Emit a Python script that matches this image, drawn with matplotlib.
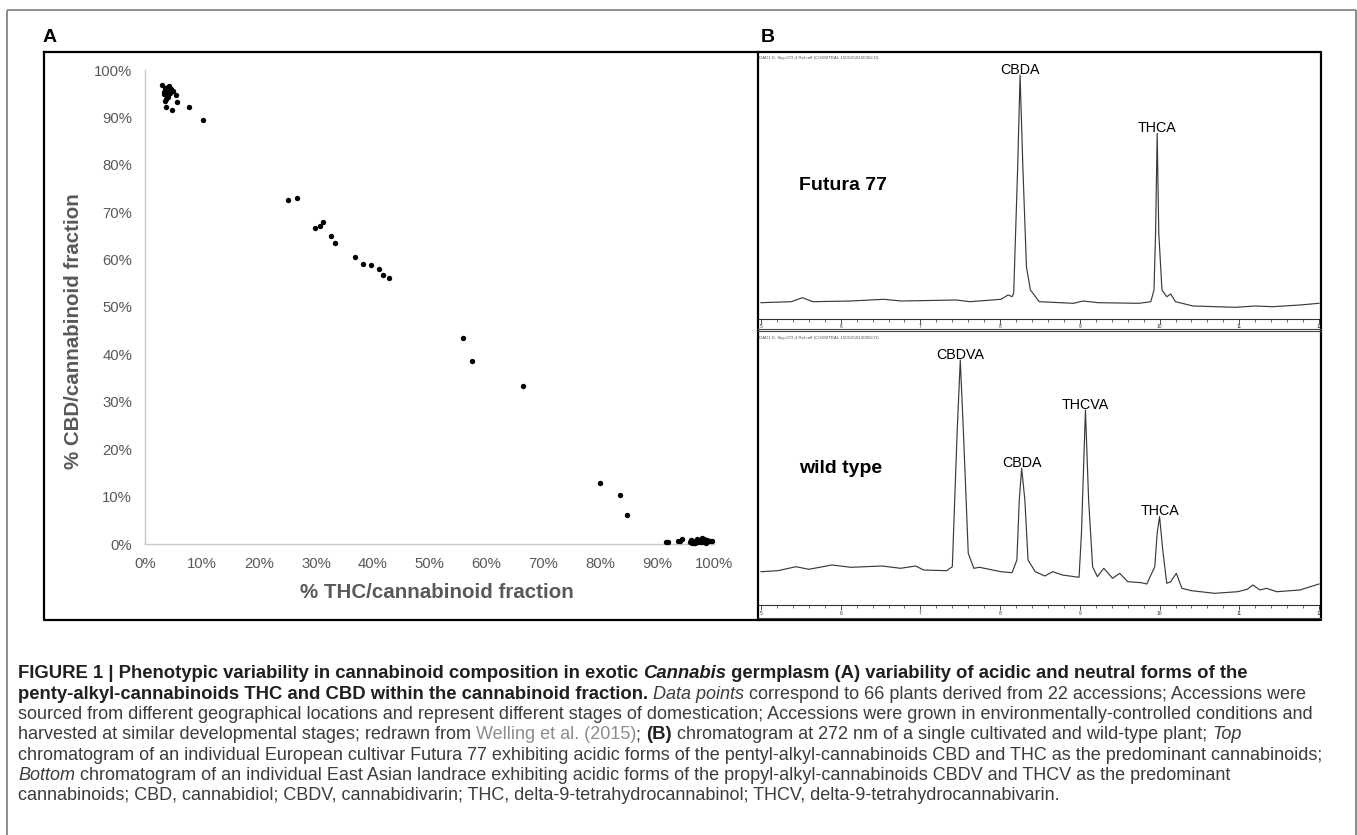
import matplotlib
matplotlib.use("Agg")
import matplotlib.pyplot as plt
from matplotlib.lines import Line2D
from matplotlib.ticker import PercentFormatter, FixedLocator, MultipleLocator

plt.rcParams['font.family'] = ['Liberation Sans', 'DejaVu Sans']

W, H = 1357, 835

# ---- panel A: % THC vs % CBD in the cannabinoid fraction, 66 plants ----
thc_pct = [3.0, 3.4, 3.7, 4.3, 3.3, 3.6, 5.4, 5.6, 3.7, 4.6, 7.7, 10.1, 3.9, 4.5, 3.2, 4.0, 4.8, 3.5, 4.2, 3.8,
           25.1, 26.7, 29.8, 30.7, 31.3, 32.6, 33.4, 36.8, 38.3, 39.7, 41.1, 41.7, 42.8,
           55.8, 57.5, 66.4, 80.0, 83.4, 84.7,
           91.6, 91.9, 93.7, 94.1, 94.3, 95.7, 96.0, 96.3, 96.5, 96.9, 97.0, 97.2, 97.5, 97.7,
           98.0, 98.3, 98.3, 98.6, 98.9, 99.3, 95.9, 96.7, 97.9, 96.1, 97.3, 98.7, 99.6]
cbd_pct = [96.9, 96.2, 95.6, 95.1, 94.9, 93.9, 94.7, 93.3, 92.1, 91.5, 92.1, 89.4, 96.4, 96.0, 95.3, 94.3, 95.5, 93.5, 96.6, 94.8,
           72.6, 73.1, 66.6, 67.1, 68.0, 65.0, 63.4, 60.6, 59.1, 58.8, 58.0, 56.8, 56.2,
           43.4, 38.6, 33.3, 12.8, 10.4, 6.1,
           0.4, 0.5, 0.7, 0.6, 1.0, 0.4, 0.6, 0.7, 0.3, 0.6, 1.1, 0.4, 0.9, 0.5,
           0.7, 1.0, 0.5, 0.3, 0.6, 0.7, 0.9, 0.2, 1.2, 0.3, 0.6, 0.9, 0.6]

# ---- panel B: chromatograms at 272 nm (retention time in min, absorbance in mAU) ----
top_time = [5.00, 5.38, 5.52, 5.65, 6.13, 6.54, 6.76, 7.45, 7.62, 8.01, 8.10, 8.15, 8.17, 8.22, 8.25,
            8.285, 8.33, 8.38, 8.49, 8.92, 9.04, 9.23, 9.74, 9.89, 9.93, 9.95, 9.97, 9.99, 10.03,
            10.09, 10.14, 10.20, 10.42, 10.95, 11.20, 11.42, 11.76, 12.00]
top_abs = [15.8, 16.8, 20.8, 16.8, 17.5, 19.2, 17.5, 18.5, 16.8, 19.2, 23.5, 21.8, 25.5, 151.5, 243.5,
           151.5, 51.5, 28.5, 16.8, 15.2, 17.5, 15.8, 15.2, 16.8, 28.5, 85.5, 185.2, 85.5, 28.5,
           21.8, 24.5, 16.8, 12.5, 11.2, 12.5, 11.8, 13.5, 15.2]
top_peaks = ["CBDA", "THCA"]
top_peak_time = [8.25, 9.97]

bot_time = [5.00, 5.21, 5.44, 5.60, 5.89, 6.13, 6.52, 6.75, 6.94, 7.04, 7.33, 7.40, 7.46, 7.50, 7.54,
            7.60, 7.67, 7.74, 8.01, 8.15, 8.21, 8.24, 8.27, 8.31, 8.35, 8.44, 8.56, 8.66, 8.78,
            8.99, 9.02, 9.07, 9.11, 9.16, 9.22, 9.30, 9.41, 9.50, 9.60, 9.77, 9.84, 9.94, 9.97,
            10.00, 10.04, 10.09, 10.14, 10.21, 10.28, 10.40, 10.69, 10.98, 11.10, 11.17, 11.26,
            11.34, 11.47, 11.76, 12.00]
bot_abs = [33.3, 34.3, 38.3, 35.7, 40.0, 37.7, 39.0, 36.7, 39.0, 35.0, 34.3, 38.3, 171.7, 245.0, 171.7,
           51.7, 36.7, 37.7, 33.3, 32.3, 45.0, 105.0, 136.7, 105.0, 45.0, 33.3, 29.0, 33.3, 30.0,
           27.7, 71.7, 195.0, 105.0, 38.3, 28.3, 36.7, 26.7, 31.7, 23.3, 22.3, 21.0, 38.3, 72.0,
           88.3, 55.0, 21.7, 23.3, 31.7, 16.7, 14.3, 11.7, 13.3, 15.7, 20.0, 15.0,
           16.7, 13.3, 15.0, 21.0]
bot_peaks = ["CBDVA", "CBDA", "THCVA", "THCA"]
bot_peak_time = [7.50, 8.27, 9.07, 10.00]

fig = plt.figure(figsize=(W / 100, H / 100), dpi=100)
renderer = fig.canvas.get_renderer()


def rect(x0, y0, x1, y1):
    # pixel box (top-left origin) -> figure fraction
    return [x0 / W, 1 - y1 / H, (x1 - x0) / W, (y1 - y0) / H]


def line(xs, ys, **kw):
    fig.add_artist(Line2D([x / W for x in xs], [1 - y / H for y in ys], **kw))


def text_w(s, **kw):
    t1 = fig.text(0, 0, s + "|", **kw)
    t2 = fig.text(0, 0, "|", **kw)
    w = t1.get_window_extent(renderer).width - t2.get_window_extent(renderer).width
    t1.remove()
    t2.remove()
    return w


def fit_size(s, target, **kw):
    return 10 * target / text_w(s, fontsize=10, **kw)


# outer frame
frame = dict(color='#8c8c8c', lw=1.4, solid_capstyle='butt')
line([7, 1356], [10, 10], **frame)
line([7, 7], [10, 835], **frame)
line([1356, 1356], [10, 835], **frame)

# panel labels
fig.text(43 / W, 1 - 42 / H, 'A', fontsize=14, fontweight='bold', va='baseline')
fig.text(761 / W, 1 - 42 / H, 'B', fontsize=14, fontweight='bold', va='baseline')

# ---- panel A ----
ax = fig.add_axes(rect(145.4, 70, 714, 544))
ax.scatter([v / 100 for v in thc_pct], [v / 100 for v in cbd_pct], s=15, color='black',
           linewidths=0, zorder=3, clip_on=False)
ax.set_xlim(0, 1)
ax.set_ylim(0, 1)
ax.xaxis.set_major_locator(MultipleLocator(0.1))
ax.yaxis.set_major_locator(MultipleLocator(0.1))
ax.xaxis.set_major_formatter(PercentFormatter(1.0, decimals=0))
ax.yaxis.set_major_formatter(PercentFormatter(1.0, decimals=0))
for side in ['top', 'right']:
    ax.spines[side].set_visible(False)
for side in ['left', 'bottom']:
    ax.spines[side].set_color('#c8c8c8')
    ax.spines[side].set_linewidth(1.0)
ax.tick_params(length=0, labelsize=10.7, labelcolor='#595959')
ax.tick_params(axis='x', pad=9.5)
ax.tick_params(axis='y', pad=9.5)
ax.patch.set_alpha(0)

lab_kw = dict(fontweight='bold', color='#595959')
ylab = '% CBD/cannabinoid fraction'
xlab = '% THC/cannabinoid fraction'
fig.text(73.7 / W, 1 - 331 / H, ylab, rotation=90, ha='center', va='center',
         fontsize=fit_size(ylab, 276, **lab_kw), **lab_kw)
fig.text(437 / W, 1 - 593 / H, xlab, ha='center', va='center',
         fontsize=fit_size(xlab, 272, **lab_kw), **lab_kw)

# panel boxes
box = dict(color='black', lw=1.6, solid_capstyle='projecting')
line([44, 1321, 1321, 44, 44], [52, 52, 620, 620, 52], **box)
line([757.5, 757.5], [52, 620], **box)

# ---- panel B ----
def chromatogram(y0, y1, t, a, names, times, header, title):
    c = fig.add_axes(rect(759, y0, 1321, y1))
    c.plot(t, a, color='#3a3a3a', lw=0.85)
    c.set_xlim(5 - 2 / 79.7, 12 + 2 / 79.7)
    c.set_ylim(0, y1 - y0)
    for side in ['top', 'left', 'right']:
        c.spines[side].set_visible(False)
    c.spines['bottom'].set_linewidth(0.8)
    c.spines['bottom'].set_color('#333333')
    c.xaxis.set_major_locator(FixedLocator(range(5, 13)))
    c.xaxis.set_minor_locator(MultipleLocator(0.2))
    c.tick_params(axis='x', which='major', length=3.6, width=0.6, labelsize=3.5, pad=0.6,
                  colors='#333333')
    c.tick_params(axis='x', which='minor', length=1.8, width=0.5, colors='#333333')
    c.set_yticks([])
    c.patch.set_alpha(0)
    for n, tm in zip(names, times):
        c.annotate(n, (tm, a[t.index(tm)]), xytext=(0, 1), textcoords='offset points',
                   ha='center', va='baseline', fontsize=10.3)
    c.text(0.0, 0.985, header, transform=c.transAxes, fontsize=3.2, color='#555555',
           va='top', ha='left')
    c.text(40 / 562, 0.5, title, transform=c.transAxes, fontsize=14, fontweight='bold',
           va='center', ha='left')
    return c


chromatogram(52, 318.5, top_time, top_abs, top_peaks, top_peak_time,
             'DAD1 E, Sig=272,4 Ref=off (CHEMTRAL 150115\\0150002.D)', 'Futura 77')
chromatogram(331.5, 605, bot_time, bot_abs, bot_peaks, bot_peak_time,
             'DAD1 E, Sig=272,4 Ref=off (CHEMTRAL 150115\\0190002.D)', 'wild type')
line([757.5, 1321], [328.5, 328.5], color='#444444', lw=0.8)
line([757.5, 1321], [331.5, 331.5], color='#444444', lw=0.8)
line([757.5, 1321], [617.5, 617.5], color='#444444', lw=0.8)

# ---- caption ----
B = dict(fontweight='bold', color='#231f20')
BI = dict(fontweight='bold', fontstyle='italic', color='#231f20')
N = dict(color='#3c3c3c')
I = dict(fontstyle='italic', color='#3c3c3c')
L = dict(color='#8c8c8c')
caption = [
    [("FIGURE 1 | Phenotypic variability in cannabinoid composition in exotic ", B), ("Cannabis", BI),
     (" germplasm (A) variability of acidic and neutral forms of the", B)],
    [("penty-alkyl-cannabinoids THC and CBD within the cannabinoid fraction. ", B), ("Data points", I),
     (" correspond to 66 plants derived from 22 accessions; Accessions were", N)],
    [("sourced from different geographical locations and represent different stages of domestication; "
      "Accessions were grown in environmentally-controlled conditions and", N)],
    [("harvested at similar developmental stages; redrawn from ", N), ("Welling et al. (2015)", L),
     ("; ", N), ("(B)", B), (" chromatogram at 272 nm of a single cultivated and wild-type plant; ", N),
     ("Top", I)],
    [("chromatogram of an individual European cultivar Futura 77 exhibiting acidic forms of the "
      "pentyl-alkyl-cannabinoids CBD and THC as the predominant cannabinoids;", N)],
    [("Bottom", I), (" chromatogram of an individual East Asian landrace exhibiting acidic forms of the "
                     "propyl-alkyl-cannabinoids CBDV and THCV as the predominant", N)],
    [("cannabinoids; CBD, cannabidiol; CBDV, cannabidivarin; THC, delta-9-tetrahydrocannabinol; "
      "THCV, delta-9-tetrahydrocannabivarin.", N)],
]
cap_size = fit_size(caption[2][0][0], 1300, **N)
for i, runs in enumerate(caption):
    x = 18
    y = 678.5 + i * 20.3
    for s, st in runs:
        size = cap_size * (1.03 if st.get('fontweight') == 'bold' else 1.0)
        fig.text(x / W, 1 - y / H, s, fontsize=size, va='baseline', ha='left', **st)
        x += text_w(s, fontsize=size, **st)

fig.savefig('out.png', dpi=100)
